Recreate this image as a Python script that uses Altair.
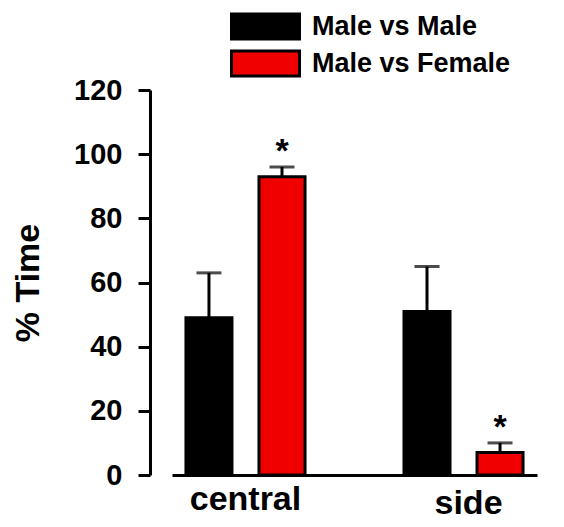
import altair as alt
import pandas as pd

locations = ["central", "central", "side", "side"]
groups = ["Male vs Male", "Male vs Female", "Male vs Male", "Male vs Female"]
means = [49, 93, 51, 7]
sems = [14, 3, 14, 3]
signif = ["", "*", "", "*"]

group_order = ["Male vs Male", "Male vs Female"]
colors = ["#000000", "#f00000"]
y_ticks = [0, 20, 40, 60, 80, 100, 120]

df = pd.DataFrame({"location": locations, "group": groups, "mean": means,
                   "sem": sems, "sig": signif})
df["upper"] = df["mean"] + df["sem"]

FONT = "Liberation Sans"

x = alt.X("location:N", title=None,
          scale=alt.Scale(paddingInner=0.454, paddingOuter=0.064),
          axis=alt.Axis(labelAngle=0, ticks=False, domainWidth=3, domainColor="black",
                        labelFont=FONT, labelFontSize=34, labelFontWeight="bold",
                        labelColor="black",
                        labelPadding=alt.ExprRef("datum.value == 'side' ? 11 : 7"),
                        labelOffset=alt.ExprRef("datum.value == 'side' ? 5 : 0")))
xoff = alt.XOffset("group:N", sort=group_order,
                   scale=alt.Scale(domain=group_order, paddingInner=0.37, paddingOuter=0))
y_scale = alt.Scale(domain=[0, 120], nice=False)

base = alt.Chart(df)

bars = base.mark_bar(stroke="black", strokeWidth=3).encode(
    x=x, xOffset=xoff,
    y=alt.Y("mean:Q", scale=y_scale, title="% Time",
            axis=alt.Axis(values=y_ticks, grid=False, offset=22, tickSize=12, tickWidth=3,
                          tickColor="black", domainWidth=3, domainColor="black",
                          labelFont=FONT, labelFontSize=29, labelFontWeight="bold",
                          labelColor="black", labelPadding=16,
                          titleFont=FONT, titleFontSize=34, titleFontWeight="bold",
                          titleColor="black", titlePadding=28)),
    color=alt.Color("group:N", sort=group_order,
                    scale=alt.Scale(domain=group_order, range=colors),
                    legend=alt.Legend(title=None, orient="none", legendX=75, legendY=-82,
                                      symbolType="M-2,-0.735L2,-0.735L2,0.735L-2,0.735Z",
                                      symbolSize=1156, symbolStrokeColor="black",
                                      symbolStrokeWidth=3, labelFont=FONT,
                                      labelFontSize=27, labelFontWeight="bold",
                                      labelColor="black", labelOffset=28, labelLimit=400,
                                      rowPadding=0)),
)

err = base.mark_rule(color="black", strokeWidth=3).encode(
    x=x, xOffset=xoff, y=alt.Y("mean:Q", scale=y_scale), y2="upper:Q")

caps = base.mark_tick(color="black", thickness=3, size=25).encode(
    x=x, xOffset=xoff, y=alt.Y("upper:Q", scale=y_scale))

stars = base.mark_text(font=FONT, fontSize=34, fontWeight="bold", color="black",
                       baseline="alphabetic", dy=-5).encode(
    x=x, xOffset=xoff, y=alt.Y("upper:Q", scale=y_scale), text="sig:N")

chart = alt.layer(err, bars, caps, stars).properties(
    width=365, height=385,
    autosize=alt.AutoSizeParams(type="none"),
    padding={"left": 164, "top": 82, "right": 19, "bottom": 44},
).configure_view(stroke=None)

chart.save("out.html", embed_options={"renderer": "svg", "actions": False})
